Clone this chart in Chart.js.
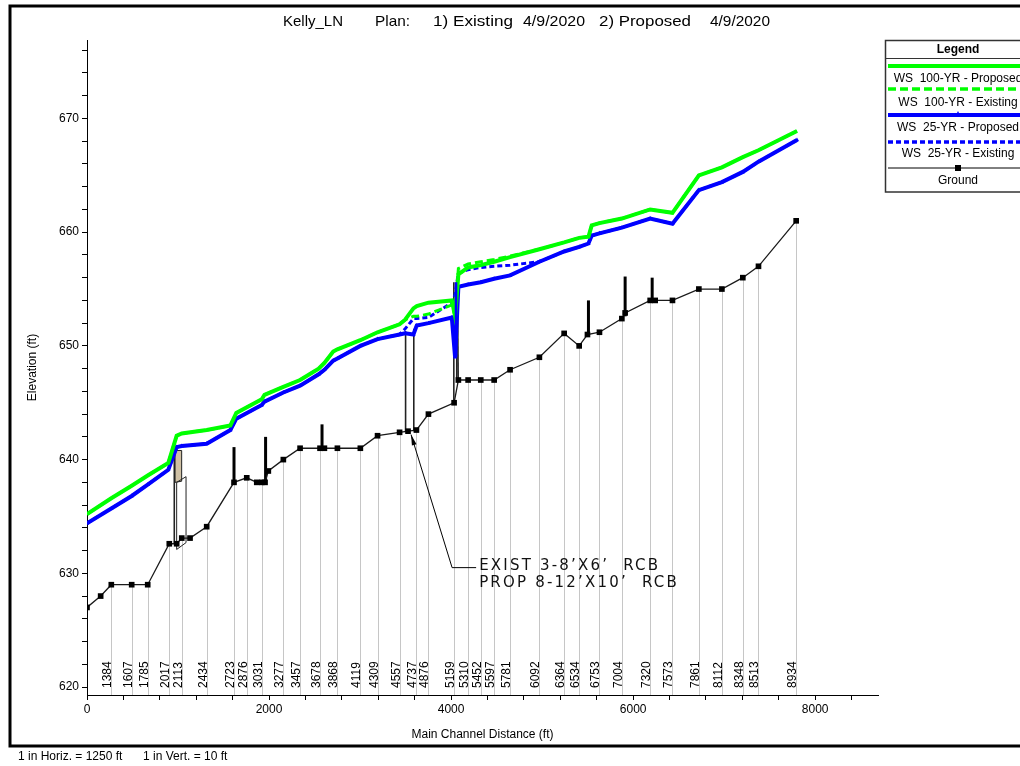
<!DOCTYPE html>
<html><head><meta charset="utf-8">
<script src="https://cdn.jsdelivr.net/npm/chart.js@4.4.1/dist/chart.umd.min.js"></script>
<style>html,body{margin:0;padding:0;background:#fff;}canvas{display:block;}</style>
</head><body>
<canvas id="c" width="1020" height="766"></canvas>
<script>
// ---------- DATA ----------
const titleParts = ['Kelly_LN', 'Plan:', '1) Existing', '4/9/2020', '2) Proposed', '4/9/2020'];

const stationLabels = ['1384','1607','1785','2017','2113','2434','2723','2876','3031','3277','3457','3678','3868','4119','4309','4557','4737','4876','5159','5310','5452','5597','5781','6092','6364','6534','6753','7004','7320','7573','7861','8112','8348','8513','8934'];
const stationDist = [267,491,667,904,1041,1315,1615,1755,1920,2157,2341,2560,2751,3003,3192,3434,3619,3751,4033,4187,4326,4473,4648,4970,5242,5407,5630,5876,6187,6432,6722,6975,7205,7377,7791];

const groundDist = [0,150,267,491,667,904,985,1041,1132,1315,1615,1755,1865,1920,1956,1992,2157,2341,2560,2608,2751,3003,3192,3434,3527,3619,3751,4033,4080,4187,4326,4473,4648,4970,5242,5407,5498,5630,5876,5912,6187,6242,6432,6722,6975,7205,7377,7791];
const groundElev = [627.0,628.0,629.0,629.0,629.0,632.6,632.6,633.1,633.1,634.1,638.0,638.4,638.0,638.0,638.0,639.0,640.0,641.0,641.0,641.0,641.0,641.0,642.1,642.4,642.5,642.6,644.0,645.0,647.0,647.0,647.0,647.0,647.9,649.0,651.1,650.0,651.0,651.2,652.4,652.9,654.0,654.0,654.0,655.0,655.0,656.0,657.0,661.0];

const wsDist = [0,267,491,667,893,985,1041,1315,1575,1640,1920,1950,2157,2341,2545,2608,2705,2751,3003,3192,3434,3495,3586,3623,3751,4008,4044,4080,4187,4326,4473,4648,4970,5242,5407,5509,5545,5630,5876,6187,6432,6722,6975,7205,7377,7800];
const ws100Prop = [635.2,636.6,637.7,638.6,639.7,642.1,642.3,642.6,643.0,644.1,645.3,645.7,646.4,647.0,648.0,648.5,649.5,649.7,650.5,651.2,651.9,652.3,653.3,653.5,653.8,654.0,652.6,656.3,656.9,657.1,657.4,657.8,658.5,659.1,659.5,659.6,660.6,660.8,661.2,662.0,661.7,665.0,665.7,666.6,667.2,668.9];
const ws100Exist = [635.2,636.6,637.7,638.6,639.7,642.1,642.3,642.6,643.0,644.1,645.3,645.7,646.4,647.0,648.0,648.5,649.5,649.7,650.5,651.2,651.9,652.3,652.6,652.6,652.8,653.6,652.6,656.8,657.2,657.4,657.6,657.9,658.5,659.1,659.5,659.6,660.6,660.8,661.2,662.0,661.7,665.0,665.7,666.6,667.2,668.9];
const ws25Prop = [634.4,635.7,636.8,637.8,639.1,641.1,641.2,641.4,642.6,643.6,644.8,645.1,645.9,646.5,647.5,647.9,648.7,648.9,650.0,650.6,651.0,651.1,651.0,651.8,652.0,652.5,649.0,655.2,655.4,655.6,655.9,656.2,657.4,658.3,658.7,659.0,659.7,659.9,660.4,661.2,660.75,663.7,664.4,665.3,666.2,668.1];
const ws25Exist = [634.4,635.7,636.8,637.8,639.1,641.1,641.2,641.4,642.6,643.6,644.8,645.1,645.9,646.5,647.5,647.9,648.7,648.9,650.0,650.6,651.0,651.5,652.4,652.4,652.5,653.8,654.5,656.4,656.7,656.9,657.0,657.1,657.4,658.3,658.7,659.0,659.7,659.9,660.4,661.2,660.75,663.7,664.4,665.3,666.2,668.1];

// vertical obstruction marks along the ground
const spikeDist = [1615,1962,2582,5509,5912,6209];
const spikeBase = [638.0,638.0,641.0,651.0,652.6,654.0];
const spikeTop  = [641.1,642.0,643.1,654.0,656.1,656.0];

// culvert / structure geometry (distance, elevation)
const culvertDeck = [[967,640.8],[1040,640.8],[1040,638.1],[967,638.0]];
const culvertBox  = [[985,638.0],[1088,638.5],[1088,632.7],[985,632.1]];
const structLines = [
  [[959,632.6],[959,640.8]],
  [[3500,642.4],[3500,651.3]],
  [[3590,642.5],[3590,651.5]],
  [[4030,645.0],[4030,655.6]],
  [[4062,647.0],[4062,656.0]],
  [[4078,647.0],[4070,655.0]]
];
const blueBand = [4040,4068,649.0,655.6];

const annotLines = ['EXIST 3-8\u2019X6\u2019  RCB', 'PROP 8-12\u2019X10\u2019  RCB'];
const annotTip = [3560,642.2], annotKnee = [4011,630.5], annotEnd = [4275,630.5];

const legendItems = ['WS  100-YR - Proposed','WS  100-YR - Existing','WS  25-YR - Proposed','WS  25-YR - Existing','Ground'];

const xMin = 0, xMax = 8690, xStep = 400, xLabelEvery = 2000;
const yMin = 619.3, yMax = 676.9, yStep = 2, yLabelEvery = 10;

// ---------- STYLE ----------
const FONT = '"Liberation Sans", Arial, Helvetica, sans-serif';
const GREEN = '#00ff00', BLUE = '#0000ff';
Chart.defaults.font.family = FONT;
Chart.defaults.color = '#000';

const pts = (xs, ys) => xs.map((x, i) => ({x, y: ys[i]}));
function stepTicks(lo, hi, step) {
  const out = [];
  for (let v = Math.ceil(lo / step) * step; v <= hi + 1e-9; v += step) out.push({value: Math.round(v * 1000) / 1000});
  return out;
}

function P(chart, d, e) {
  return [chart.scales.x.getPixelForValue(d), chart.scales.y.getPixelForValue(e)];
}

function fitText(ctx, text, x, y, w) {
  const m = ctx.measureText(text).width;
  ctx.save();
  ctx.translate(x, y);
  ctx.scale(w / m, 1);
  ctx.fillText(text, 0, 0);
  ctx.restore();
}

const bgPlugin = {
  id: 'bg',
  beforeDraw(chart) {
    const c = chart.ctx;
    c.save(); c.fillStyle = '#fff'; c.fillRect(0, 0, chart.width, chart.height); c.restore();
  }
};

const structPlugin = {
  id: 'structs',
  beforeDatasetsDraw(chart) {
    const ctx = chart.ctx, xs = chart.scales.x, ys = chart.scales.y, area = chart.chartArea;
    ctx.save();
    ctx.strokeStyle = '#c6c6c6'; ctx.lineWidth = 1;
    stationDist.forEach((d) => {
      const gi = groundDist.indexOf(d);
      const x = Math.round(xs.getPixelForValue(d)) + 0.5;
      const y = ys.getPixelForValue(groundElev[gi]);
      ctx.beginPath(); ctx.moveTo(x, y); ctx.lineTo(x, area.bottom); ctx.stroke();
    });
    ctx.fillStyle = '#000'; ctx.font = '12px ' + FONT;
    stationDist.forEach((d, i) => {
      const x = Math.round(xs.getPixelForValue(d));
      ctx.save(); ctx.translate(x, area.bottom - 7); ctx.rotate(-Math.PI / 2);
      ctx.textAlign = 'left'; ctx.textBaseline = 'alphabetic';
      ctx.fillText(stationLabels[i], 0, 0); ctx.restore();
    });
    ctx.beginPath();
    culvertDeck.forEach((p, i) => { const [x, y] = P(chart, p[0], p[1]); i ? ctx.lineTo(x, y) : ctx.moveTo(x, y); });
    ctx.closePath(); ctx.fillStyle = '#cfc0a4'; ctx.fill();
    ctx.strokeStyle = '#222'; ctx.lineWidth = 1; ctx.stroke();
    ctx.beginPath();
    culvertBox.forEach((p, i) => { const [x, y] = P(chart, p[0], p[1]); i ? ctx.lineTo(x, y) : ctx.moveTo(x, y); });
    ctx.closePath(); ctx.stroke();
    ctx.lineWidth = 1.6;
    structLines.forEach(seg => {
      ctx.beginPath();
      seg.forEach((p, i) => { const [x, y] = P(chart, p[0], p[1]); i ? ctx.lineTo(x, y) : ctx.moveTo(x, y); });
      ctx.stroke();
    });
    ctx.strokeStyle = '#000'; ctx.lineWidth = 3;
    spikeDist.forEach((d, i) => {
      const [x, y0] = P(chart, d, spikeBase[i]);
      const y1 = ys.getPixelForValue(spikeTop[i]);
      ctx.beginPath(); ctx.moveTo(x, y0); ctx.lineTo(x, y1); ctx.stroke();
    });
    ctx.restore();
  },
  afterDatasetsDraw(chart) {
    const ctx = chart.ctx;
    ctx.save();
    const [x0, y0] = P(chart, blueBand[0], blueBand[3]);
    const [x1, y1] = P(chart, blueBand[1], blueBand[2]);
    ctx.fillStyle = BLUE; ctx.fillRect(x0, y0, x1 - x0, y1 - y0);
    ctx.restore();
  }
};

const decorPlugin = {
  id: 'decor',
  afterDraw(chart) {
    const ctx = chart.ctx, area = chart.chartArea;
    ctx.save();
    // title
    ctx.fillStyle = '#000'; ctx.font = '15px "Liberation Sans Narrow", ' + FONT;
    ctx.textBaseline = 'alphabetic'; ctx.textAlign = 'left';
    const tx = [283, 375, 433, 523, 599, 710], tw = [60, 35, 80, 62, 92, 60];
    titleParts.forEach((t, i) => fitText(ctx, t, tx[i], 26, tw[i]));

    // axis titles
    ctx.font = '12px ' + FONT; ctx.textAlign = 'center';
    ctx.fillText('Main Channel Distance (ft)', (area.left + area.right) / 2, 738);
    ctx.save(); ctx.translate(36, (area.top + area.bottom) / 2); ctx.rotate(-Math.PI / 2);
    ctx.fillText('Elevation (ft)', 0, 0); ctx.restore();

    // annotation leader
    const t = P(chart, annotTip[0], annotTip[1]), k = P(chart, annotKnee[0], annotKnee[1]), e = P(chart, annotEnd[0], annotEnd[1]);
    ctx.strokeStyle = '#000'; ctx.lineWidth = 1;
    ctx.beginPath(); ctx.moveTo(e[0], e[1]); ctx.lineTo(k[0], k[1]); ctx.lineTo(t[0], t[1]); ctx.stroke();
    const ang = Math.atan2(t[1] - k[1], t[0] - k[0]);
    ctx.beginPath(); ctx.moveTo(t[0], t[1]);
    ctx.lineTo(t[0] - 11 * Math.cos(ang - 0.22), t[1] - 11 * Math.sin(ang - 0.22));
    ctx.lineTo(t[0] - 11 * Math.cos(ang + 0.22), t[1] - 11 * Math.sin(ang + 0.22));
    ctx.closePath(); ctx.fillStyle = '#000'; ctx.fill();
    ctx.font = '15px "DejaVu Sans", sans-serif'; ctx.textAlign = 'left';
    ctx.fillStyle = '#111';
    if ('letterSpacing' in ctx) ctx.letterSpacing = '2.2px';
    const ax = e[0] + 3;
    ctx.fillText(annotLines[0], ax, k[1] + 2);
    ctx.fillText(annotLines[1], ax, k[1] + 19);
    if ('letterSpacing' in ctx) ctx.letterSpacing = '0px';

    // legend box
    ctx.strokeStyle = '#333'; ctx.lineWidth = 1.5;
    ctx.strokeRect(885.5, 40.5, 160, 151.5);
    ctx.lineWidth = 1; ctx.beginPath(); ctx.moveTo(885, 58.5); ctx.lineTo(1020, 58.5); ctx.stroke();
    ctx.font = 'bold 12px ' + FONT; ctx.textAlign = 'center'; ctx.fillStyle = '#000';
    ctx.fillText('Legend', 958, 53);
    const line = (y, col, w, dash) => {
      ctx.save(); ctx.strokeStyle = col; ctx.lineWidth = w; ctx.setLineDash(dash);
      ctx.beginPath(); ctx.moveTo(888, y); ctx.lineTo(1020, y); ctx.stroke(); ctx.restore();
    };
    line(66, GREEN, 4, []);
    line(89, GREEN, 3.5, [8, 4]);
    line(115, BLUE, 4, []);
    line(142, BLUE, 3.5, [5, 3]);
    line(168, '#000', 1, []);
    ctx.fillStyle = '#000'; ctx.fillRect(955, 165, 6, 6);
    ctx.fillStyle = BLUE; ctx.beginPath(); ctx.moveTo(958, 111); ctx.lineTo(961, 117); ctx.lineTo(955, 117); ctx.closePath(); ctx.fill();
    ctx.fillStyle = '#000'; ctx.font = '12px ' + FONT;
    const ly = [82, 106, 131, 157, 184];
    legendItems.forEach((s, i) => ctx.fillText(s, 958, ly[i]));

    // frame
    ctx.strokeStyle = '#000'; ctx.lineWidth = 3;
    ctx.beginPath(); ctx.moveTo(1021, 6); ctx.lineTo(10, 6); ctx.lineTo(10, 746); ctx.lineTo(1021, 746); ctx.stroke();
    ctx.font = '12px ' + FONT; ctx.textAlign = 'left'; ctx.fillStyle = '#000';
    ctx.fillText('1 in Horiz. = 1250 ft', 18, 760);
    ctx.fillText('1 in Vert. = 10 ft', 143, 760);
    ctx.restore();
  }
};

new Chart(document.getElementById('c'), {
  type: 'scatter',
  data: {
    datasets: [
      { label: 'Ground', data: pts(groundDist, groundElev), showLine: true, borderColor: '#1a1a1a', borderWidth: 1.3,
        pointStyle: 'rect', pointRadius: 4, pointBackgroundColor: '#000', pointBorderWidth: 0, tension: 0 },
      { label: 'WS 100-YR - Proposed', data: pts(wsDist, ws100Prop), showLine: true, borderColor: GREEN, borderWidth: 4,
        pointRadius: 0, tension: 0 },
      { label: 'WS 25-YR - Proposed', data: pts(wsDist, ws25Prop), showLine: true, borderColor: BLUE, borderWidth: 4,
        pointRadius: 2.5, pointStyle: 'triangle', pointBackgroundColor: BLUE, pointBorderWidth: 0, tension: 0 },
      { label: 'WS 100-YR - Existing', data: pts(wsDist, ws100Exist), showLine: true, borderColor: GREEN, borderWidth: 3,
        borderDash: [8, 4], pointRadius: 0, tension: 0 },
      { label: 'WS 25-YR - Existing', data: pts(wsDist, ws25Exist), showLine: true, borderColor: BLUE, borderWidth: 3,
        borderDash: [5, 3], pointRadius: 0, tension: 0 }
    ]
  },
  options: {
    responsive: false, animation: false, devicePixelRatio: 1, events: [],
    layout: { padding: { left: 0, top: 40, right: 142, bottom: 0 } },
    plugins: { legend: { display: false }, tooltip: { enabled: false }, title: { display: false } },
    scales: {
      x: {
        type: 'linear', min: xMin, max: xMax,
        afterFit: s => { s.height = 71; },
        afterBuildTicks: s => { s.ticks = stepTicks(xMin, xMax, xStep); },
        grid: { drawOnChartArea: false, drawTicks: true, tickLength: 5, color: '#000' },
        border: { display: true, color: '#000', width: 1 },
        ticks: { autoSkip: false, maxRotation: 0, padding: 2, color: '#000', font: { size: 12 },
          callback: v => (Math.abs(v % xLabelEvery) < 1e-6 ? String(v) : '') }
      },
      y: {
        type: 'linear', min: yMin, max: yMax,
        afterFit: s => { s.width = 87; },
        afterBuildTicks: s => { s.ticks = stepTicks(yMin, yMax, yStep); },
        grid: { drawOnChartArea: false, drawTicks: true, tickLength: 5, color: '#000' },
        border: { display: true, color: '#000', width: 1 },
        ticks: { autoSkip: false, padding: 3, color: '#000', font: { size: 12 },
          callback: v => (Math.abs(v % yLabelEvery) < 1e-6 ? String(v) : '') }
      }
    }
  },
  plugins: [bgPlugin, structPlugin, decorPlugin]
});
</script>
</body></html>
